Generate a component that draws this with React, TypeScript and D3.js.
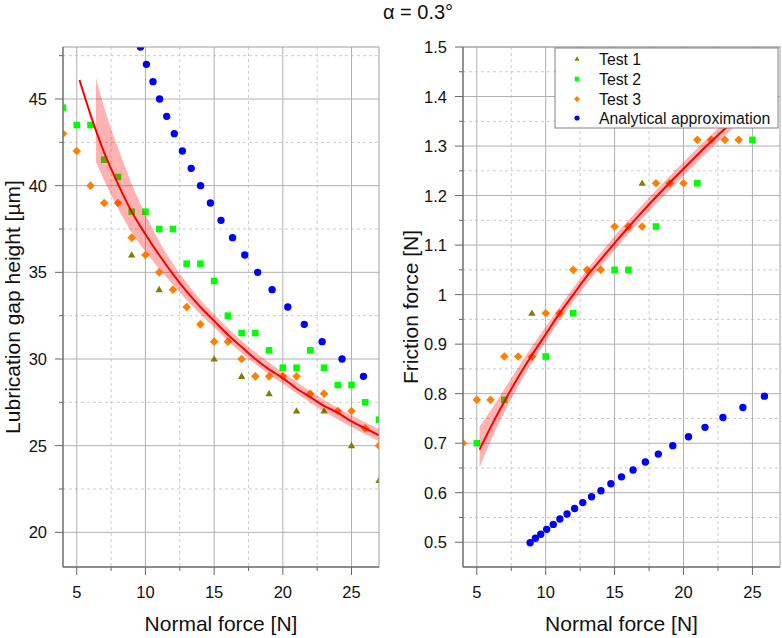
import * as d3 from "d3";

const FONT = "'Liberation Sans', Arial, Helvetica, sans-serif";

// x positions shared by the measured series (normal force, N)
const forceAll = [4, 5, 6, 7, 8, 9, 10, 11, 12, 13, 14, 15, 16, 17, 18, 19, 20, 21, 22, 23, 24, 25, 26, 27];

// analytical approximation
const forceAnalytical = [8.87, 9.25, 9.64, 10.07, 10.55, 11.03, 11.55, 12.1, 12.69, 13.33, 14.01, 14.73, 15.5, 16.34, 17.23, 18.17, 19.22, 20.36, 21.56, 22.86, 24.31, 25.87];
const gapAnalytical = [50, 49, 48, 47, 46, 45, 44, 43, 42, 41, 40, 39, 38, 37, 36, 35, 34, 33, 32, 31, 30, 29];
const frictionAnalytical = [0.499, 0.508, 0.516, 0.526, 0.536, 0.547, 0.557, 0.568, 0.58, 0.592, 0.604, 0.618, 0.632, 0.646, 0.662, 0.678, 0.695, 0.713, 0.732, 0.752, 0.772, 0.795];

// lubrication gap height [µm]
const gapTest1Force = [9, 11, 15, 17, 19, 21, 23, 25, 27];
const gapTest1 = [36, 34, 30, 29, 28, 27, 27, 25, 23];
const gapTest2 = [44.5, 43.5, 43.5, 41.5, 40.5, 38.5, 38.5, 37.5, 37.5, 35.5, 35.5, 34.5, 32.5, 31.5, 31.5, 30.5, 29.5, 29.5, 30.5, 29.5, 28.5, 28.5, 27.5, 26.5];
const gapTest3 = [43, 42, 40, 39, 39, 37, 36, 35, 34, 33, 32, 31, 31, 30, 29, 29, 29, 29, 28, 28, 27, 27, 26, 25];

const gapFitForce = [5.2, 6, 7, 8, 9, 10, 11, 12, 13, 14, 15, 16, 17, 18, 19, 20, 21, 22, 23, 24, 25, 26, 27];
const gapFit = [46.1, 44.1, 41.9, 40.1, 38.5, 37.2, 36.0, 34.9, 33.9, 33.0, 32.2, 31.4, 30.7, 30.0, 29.4, 28.9, 28.3, 27.8, 27.3, 26.9, 26.4, 26.0, 25.6];
const gapBandForce = [6.4, 7, 8, 9, 10, 11, 12, 13, 14, 15, 17, 20, 23, 27];
const gapBandHigh = [46.2, 44.5, 42.2, 40.1, 38.35, 36.8, 35.5, 34.4, 33.42, 32.58, 31.05, 29.23, 27.63, 25.95];
const gapBandLow = [41.4, 40.3, 38.7, 37.3, 36.2, 35.2, 34.3, 33.4, 32.58, 31.82, 30.35, 28.57, 26.97, 25.25];

// friction force [N]
const fricTest1Force = [9, 17];
const fricTest1 = [0.9625, 1.225];
const fricTest2Force = [5, 7, 10, 12, 15, 16, 18, 21, 25];
const fricTest2 = [0.7, 0.7875, 0.875, 0.9625, 1.05, 1.05, 1.1375, 1.225, 1.3125];
const fricTest3Force = [4, 5, 6, 7, 8, 9, 10, 11, 12, 13, 14, 15, 16, 17, 18, 19, 20, 21, 22, 23, 24];
const fricTest3 = [0.7, 0.7875, 0.7875, 0.875, 0.875, 0.875, 0.9625, 0.9625, 1.05, 1.05, 1.05, 1.1375, 1.1375, 1.1375, 1.225, 1.225, 1.225, 1.3125, 1.3125, 1.3125, 1.3125];

const fricFitForce = [5.2, 6, 7, 8, 9, 10, 11, 12, 13, 14, 15, 16, 17, 18, 19, 20, 21, 22, 23, 24, 25, 26];
const fricFit = [0.687, 0.732, 0.784, 0.833, 0.878, 0.92, 0.962, 1.0, 1.038, 1.071, 1.104, 1.136, 1.167, 1.197, 1.226, 1.254, 1.282, 1.309, 1.335, 1.361, 1.386, 1.411];
const fricBandForce = [5.2, 6, 7, 8, 9, 10, 12, 15, 20, 26];
const fricBandHigh = [0.733, 0.766, 0.809, 0.853, 0.895, 0.935, 1.014, 1.118, 1.268, 1.425];
const fricBandLow = [0.651, 0.704, 0.762, 0.815, 0.862, 0.905, 0.986, 1.09, 1.24, 1.397];

const xMajor = [5, 10, 15, 20, 25];
const xMinor = [7.5, 12.5, 17.5, 22.5];
const gapMajor = [20, 25, 30, 35, 40, 45];
const gapMinor = [22.5, 27.5, 32.5, 37.5, 42.5, 47.5];
const fricMajor = [0.5, 0.6, 0.7, 0.8, 0.9, 1, 1.1, 1.2, 1.3, 1.4, 1.5];
const fricMinor = [0.55, 0.65, 0.75, 0.85, 0.95, 1.05, 1.15, 1.25, 1.35, 1.45];

const legendLabels = ["Test 1", "Test 2", "Test 3", "Analytical approximation"];

const COLORS = { t1: "#808000", t2: "#00ff00", t3: "#ff8000", ana: "#0000ff" };

type Shape = "triangle" | "square" | "diamond" | "circle";
type Series = { xs: number[]; ys: number[]; shape: Shape; color: string };

function markerPath(shape: Shape, s = 1) {
  if (shape === "triangle") return `M0,${-3.8 * s}L${3.7 * s},${2.6 * s}L${-3.7 * s},${2.6 * s}Z`;
  if (shape === "square") return `M${-3.3 * s},${-3.3 * s}h${6.6 * s}v${6.6 * s}h${-6.6 * s}Z`;
  if (shape === "diamond") return `M0,${-4.3 * s}L${4.3 * s},0L0,${4.3 * s}L${-4.3 * s},0Z`;
  return d3.symbol(d3.symbolCircle, Math.PI * 3.7 * 3.7 * s * s)()!;
}

type PanelProps = {
  id: string;
  x0: number;
  x1: number;
  y0: number;
  y1: number;
  yDomain: [number, number];
  yMajor: number[];
  yMinor: number[];
  yTitle: string;
  yTitleX: number;
  series: Series[];
  fitX: number[];
  fitY: number[];
  bandX: number[];
  bandLow: number[];
  bandHigh: number[];
};

function Panel(p: PanelProps) {
  const x = d3.scaleLinear().domain([4, 27]).range([p.x0, p.x1]);
  const y = d3.scaleLinear().domain(p.yDomain).range([p.y1, p.y0]);

  const line = d3
    .line<number>()
    .x((d, i) => x(p.fitX[i]))
    .y((d) => y(d))
    .curve(d3.curveMonotoneX);
  const area = d3
    .area<number>()
    .x((d, i) => x(p.bandX[i]))
    .y0((d, i) => y(p.bandLow[i]))
    .y1((d) => y(d))
    .curve(d3.curveMonotoneX);

  const cx = (p.x0 + p.x1) / 2;
  const cy = (p.y0 + p.y1) / 2;

  return (
    <g fontFamily={FONT}>
      <defs>
        <clipPath id={p.id}>
          <rect x={p.x0} y={p.y0} width={p.x1 - p.x0} height={p.y1 - p.y0} />
        </clipPath>
      </defs>
      {/* grid */}
      {xMinor.map((t) => (
        <line key={"xm" + t} x1={x(t)} x2={x(t)} y1={p.y0} y2={p.y1} stroke="#cccccc" strokeDasharray="3,3" />
      ))}
      {p.yMinor.map((t) => (
        <line key={"ym" + t} x1={p.x0} x2={p.x1} y1={y(t)} y2={y(t)} stroke="#cccccc" strokeDasharray="3,3" />
      ))}
      {xMajor.map((t) => (
        <line key={"xg" + t} x1={x(t)} x2={x(t)} y1={p.y0} y2={p.y1} stroke="#b0b0b0" />
      ))}
      {p.yMajor.map((t) => (
        <line key={"yg" + t} x1={p.x0} x2={p.x1} y1={y(t)} y2={y(t)} stroke="#b0b0b0" />
      ))}

      {/* data */}
      <g clipPath={`url(#${p.id})`}>
        {p.series.map((s, si) =>
          s.xs.map((v, i) => (
            <path
              key={si + "-" + i}
              d={markerPath(s.shape)}
              transform={`translate(${x(v)},${y(s.ys[i])})`}
              fill={s.color}
            />
          ))
        )}
        <path d={area(p.bandHigh)!} fill="#ff0000" fillOpacity={0.3} />
        <path d={line(p.fitY)!} fill="none" stroke="#ff0000" strokeWidth={2} />
      </g>

      {/* frame and axes */}
      <rect x={p.x0} y={p.y0} width={p.x1 - p.x0} height={p.y1 - p.y0} fill="none" stroke="#a0a0a0" />
      <line x1={p.x0} x2={p.x0} y1={p.y0} y2={p.y1} stroke="#777" strokeWidth={1.4} />
      <line x1={p.x0} x2={p.x1} y1={p.y1} y2={p.y1} stroke="#777" strokeWidth={1.4} />
      {xMajor.map((t) => (
        <g key={"xt" + t}>
          <line x1={x(t)} x2={x(t)} y1={p.y1} y2={p.y1 + 8} stroke="#666" />
          <text x={x(t)} y={p.y1 + 30.5} fontSize={16.5} textAnchor="middle" fill="#111">
            {t}
          </text>
        </g>
      ))}
      {xMinor.map((t) => (
        <line key={"xmt" + t} x1={x(t)} x2={x(t)} y1={p.y1} y2={p.y1 + 4} stroke="#666" />
      ))}
      {p.yMajor.map((t) => (
        <g key={"yt" + t}>
          <line x1={p.x0 - 8} x2={p.x0} y1={y(t)} y2={y(t)} stroke="#666" />
          <text x={p.x0 - 16} y={y(t)} fontSize={16.5} textAnchor="end" dominantBaseline="central" fill="#111">
            {d3.format("~g")(t)}
          </text>
        </g>
      ))}
      {p.yMinor.map((t) => (
        <line key={"ymt" + t} x1={p.x0 - 4} x2={p.x0} y1={y(t)} y2={y(t)} stroke="#666" />
      ))}
      <text x={cx} y={631} fontSize={21} textAnchor="middle" fill="#111">
        Normal force [N]
      </text>
      <text
        transform={`translate(${p.yTitleX},${cy}) rotate(-90)`}
        fontSize={21}
        textAnchor="middle"
        fill="#111"
      >
        {p.yTitle}
      </text>
    </g>
  );
}

function Legend() {
  const shapes: Shape[] = ["triangle", "square", "diamond", "circle"];
  const colors = [COLORS.t1, COLORS.t2, COLORS.t3, COLORS.ana];
  const rowsY = [59, 79, 99, 118];
  return (
    <g fontFamily={FONT}>
      <rect x={555} y={48} width={223} height={80} fill="#fff" stroke="#808080" />
      {legendLabels.map((label, i) => (
        <g key={label}>
          <path d={markerPath(shapes[i], 0.7)} transform={`translate(577,${rowsY[i]})`} fill={colors[i]} />
          <text x={599} y={rowsY[i]} fontSize={15.8} dominantBaseline="central" fill="#111">
            {label}
          </text>
        </g>
      ))}
    </g>
  );
}

export default function App() {
  const gapSeries: Series[] = [
    { xs: forceAnalytical, ys: gapAnalytical, shape: "circle", color: COLORS.ana },
    { xs: gapTest1Force, ys: gapTest1, shape: "triangle", color: COLORS.t1 },
    { xs: forceAll, ys: gapTest2, shape: "square", color: COLORS.t2 },
    { xs: forceAll, ys: gapTest3, shape: "diamond", color: COLORS.t3 },
  ];
  const fricSeries: Series[] = [
    { xs: forceAnalytical, ys: frictionAnalytical, shape: "circle", color: COLORS.ana },
    { xs: fricTest1Force, ys: fricTest1, shape: "triangle", color: COLORS.t1 },
    { xs: fricTest2Force, ys: fricTest2, shape: "square", color: COLORS.t2 },
    { xs: fricTest3Force, ys: fricTest3, shape: "diamond", color: COLORS.t3 },
  ];

  return (
    <svg
      width={782}
      height={638}
      viewBox="0 0 782 638"
      style={{ position: "absolute", left: 0, top: 0, background: "#fff" }}
    >
      <rect width={782} height={638} fill="#fff" />
      <text x={418} y={19} fontSize={20} textAnchor="middle" fontFamily={FONT} fill="#111">
        α = 0.3°
      </text>
      <Panel
        id="clipGap"
        x0={63}
        x1={379}
        y0={47}
        y1={567}
        yDomain={[18, 48]}
        yMajor={gapMajor}
        yMinor={gapMinor}
        yTitle="Lubrication gap height [µm]"
        yTitleX={20}
        series={gapSeries}
        fitX={gapFitForce}
        fitY={gapFit}
        bandX={gapBandForce}
        bandLow={gapBandLow}
        bandHigh={gapBandHigh}
      />
      <Panel
        id="clipFric"
        x0={463}
        x1={780}
        y0={47}
        y1={567}
        yDomain={[0.45, 1.5]}
        yMajor={fricMajor}
        yMinor={fricMinor}
        yTitle="Friction force [N]"
        yTitleX={418}
        series={fricSeries}
        fitX={fricFitForce}
        fitY={fricFit}
        bandX={fricBandForce}
        bandLow={fricBandLow}
        bandHigh={fricBandHigh}
      />
      <Legend />
    </svg>
  );
}
